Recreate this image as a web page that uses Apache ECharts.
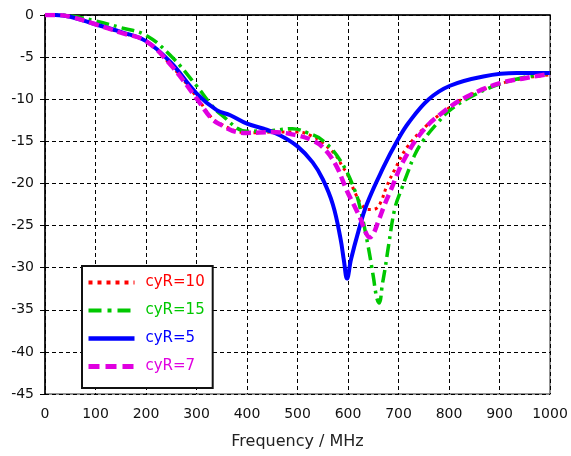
<!DOCTYPE html>
<html>
<head>
<meta charset="utf-8">
<script src="https://cdn.jsdelivr.net/npm/echarts@6/dist/echarts.min.js"></script>
<style>
html,body{margin:0;padding:0;background:#fff;}
#chart{width:571px;height:456px;}
</style>
</head>
<body>
<div id="chart"></div>
<script>
// ---- data ----
var seriesNames = ['cyR=10', 'cyR=15', 'cyR=5', 'cyR=7'];
var xTicks = [0, 100, 200, 300, 400, 500, 600, 700, 800, 900, 1000];
var yTicks = [0, -5, -10, -15, -20, -25, -30, -35, -40, -45];

var freqR10 = [0,20,50,100,150,200,250,300,330,350,380,400,450,500,530,550,575,590,598,614,627,640,655,665,677,693,717,756,789,835,900,950,1000];
var dbR10   = [0,0,-0.2,-1.1,-2.1,-3.1,-6.0,-9.7,-12.2,-13.0,-13.8,-14.0,-13.9,-13.9,-14.4,-15.2,-16.6,-18.1,-18.8,-21.1,-22.5,-23.1,-23.0,-22.2,-20.3,-18.3,-15.7,-13.1,-11.5,-9.7,-8.2,-7.5,-7.1];

var freqR15 = [0,20,50,100,150,200,250,300,327,350,400,450,490,520,550,585,614,627,640,650,657,662,668,674,680,693,707,717,733,749,776,802,850,900,950,1000];
var dbR15   = [0,0,-0.1,-0.7,-1.5,-2.4,-4.9,-8.4,-10.5,-11.9,-13.8,-13.7,-13.5,-14.0,-14.9,-17.3,-20.9,-23.7,-27.5,-31.0,-33.6,-34.2,-32.0,-29.9,-27.5,-22.9,-20.5,-18.9,-16.5,-14.9,-12.9,-11.3,-9.5,-8.2,-7.4,-6.9];

var freqR5 = [0,20,50,100,150,200,250,300,340,367,400,433,466,500,530,550,570,585,592,598,606,621,637,670,697,720,760,802,868,934,1000];
var dbR5   = [0,0,-0.2,-1.1,-2.0,-3.1,-5.7,-9.3,-11.3,-11.9,-12.9,-13.5,-14.3,-15.6,-17.5,-19.5,-22.5,-26.5,-29.2,-31.3,-29.0,-25.6,-22.5,-18.1,-15.0,-12.8,-10.0,-8.4,-7.3,-6.9,-6.9];

var freqR7 = [0,20,50,100,150,200,250,300,330,350,380,400,450,500,530,550,575,598,612,624,635,643,650,660,672,684,710,749,789,835,901,950,1000];
var dbR7   = [0,0,-0.2,-1.1,-2.1,-3.1,-6.0,-9.9,-12.3,-13.1,-13.9,-14.0,-13.9,-14.3,-14.9,-15.7,-17.7,-20.9,-22.6,-24.1,-25.8,-26.4,-26.0,-24.5,-22.6,-20.9,-17.3,-13.7,-11.5,-9.7,-8.1,-7.5,-7.0];

function pairs(f, v) { return f.map(function (x, i) { return [x, v[i]]; }); }

var colors = ['#ff0000', '#00c800', '#0000ff', '#e000e0'];
var styles = [
  { width: 3, type: [3, 4], cap: 'butt' },
  { width: 3.5, type: [13, 5, 3, 5], cap: 'butt' },
  { width: 4, type: 'solid', cap: 'butt' },
  { width: 4.5, type: [10, 5], cap: 'butt' }
];
var legendStyles = [
  { width: 4, type: [4, 5], cap: 'butt' },
  { width: 4, type: [13, 6, 4, 6], cap: 'butt' },
  { width: 4.5, type: 'solid', cap: 'butt' },
  { width: 5, type: [11, 6], cap: 'butt' }
];
var datasets = [pairs(freqR10, dbR10), pairs(freqR15, dbR15), pairs(freqR5, dbR5), pairs(freqR7, dbR7)];

var chart = echarts.init(document.getElementById('chart'), null, { renderer: 'canvas' });
var font = 'DejaVu Sans, Verdana, sans-serif';

chart.setOption({
  animation: false,
  backgroundColor: '#fff',
  grid: { left: 45, right: 21, top: 15, bottom: 62, show: true, borderColor: '#707070', borderWidth: 1.5, backgroundColor: 'transparent' },
  xAxis: {
    type: 'value', min: 0, max: 1000, interval: 100,
    name: 'Frequency / MHz', nameLocation: 'middle', nameGap: 40,
    nameTextStyle: { fontFamily: font, fontSize: 16, color: '#222' },
    axisLine: { show: true, lineStyle: { color: '#000', width: 1.5 } },
    axisTick: { show: true, length: 5, lineStyle: { color: '#000' } },
    axisLabel: { fontFamily: font, fontSize: 14, color: '#111', margin: 13,
      formatter: function (v) { return xTicks.indexOf(v) >= 0 ? String(v) : ''; } },
    splitLine: { show: true, lineStyle: { color: '#000', type: [4, 3], width: 1 } }
  },
  yAxis: {
    type: 'value', min: -45, max: 0, interval: 5,
    axisLine: { show: true, lineStyle: { color: '#000', width: 1.5 } },
    axisTick: { show: true, length: 5, lineStyle: { color: '#000' } },
    axisLabel: { fontFamily: font, fontSize: 14, color: '#111', margin: 11,
      formatter: function (v) { return yTicks.indexOf(v) >= 0 ? String(v) : ''; } },
    splitLine: { show: true, lineStyle: { color: '#000', type: [4, 3], width: 1 } }
  },
  legend: {
    left: 82, top: 266, orient: 'vertical',
    backgroundColor: '#fff', borderColor: '#111', borderWidth: 2, borderRadius: 0,
    padding: [9, 8, 14, 4],
    itemWidth: 46, itemHeight: 14, itemGap: 13,
    itemStyle: { opacity: 0 },
    data: seriesNames.map(function (n, i) {
      return {
        name: n,
        textStyle: { color: colors[i] },
        lineStyle: Object.assign({ color: colors[i] }, legendStyles[i])
      };
    }),
    textStyle: { fontFamily: font, fontSize: 15, padding: [0, 0, 0, 6] }
  },
  series: seriesNames.map(function (n, i) {
    return {
      name: n, type: 'line', data: datasets[i],
      showSymbol: false, symbol: 'none',
      smooth: 0.4,
      color: colors[i],
      lineStyle: Object.assign({ color: colors[i] }, styles[i]),
      z: 2 + i
    };
  })
});
</script>
</body>
</html>
